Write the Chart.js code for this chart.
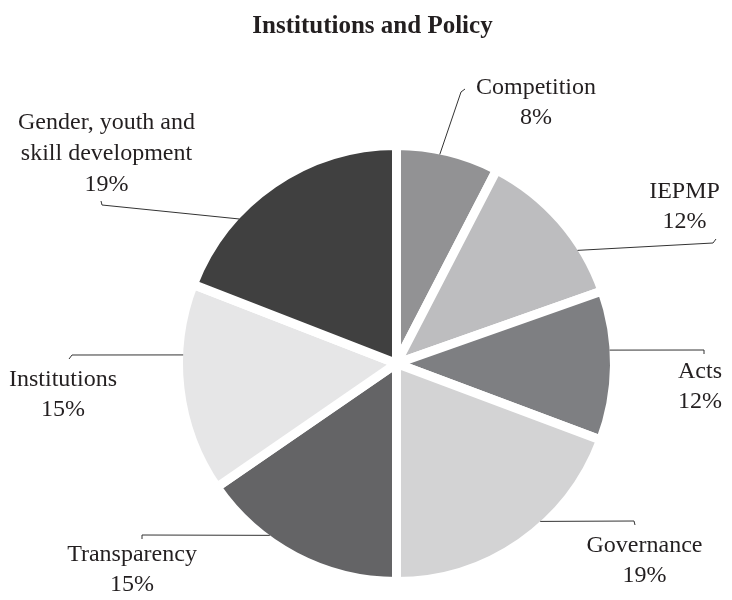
<!DOCTYPE html>
<html>
<head>
<meta charset="utf-8">
<script src="https://cdn.jsdelivr.net/npm/chart.js@4.4.1/dist/chart.umd.min.js"></script>
<style>
  html, body { margin: 0; padding: 0; background: #fff; }
  #wrap { width: 732px; height: 600px; position: relative; }
</style>
</head>
<body>
<div id="wrap"><canvas id="pie"></canvas></div>
<script>
// Chart data
const categories = [
  "Competition",
  "IEPMP",
  "Acts",
  "Governance",
  "Transparency",
  "Institutions",
  ["Gender, youth and", "skill development"],
];
const shares = [7.6, 12.0, 11.1, 19.3, 15.4, 15.5, 19.1];
const shareLabels = ["8%", "12%", "12%", "19%", "15%", "15%", "19%"];
const sliceColors = ["#929294", "#bdbdbf", "#7e7f82", "#d3d3d4", "#646466", "#e6e6e7", "#404040"];

// Leader line / label placement (offsets from pie centre, angle in degrees from top)
const labelLayout = [
  { at: 11.7, elbow: [64.5, -271.5], hook: [68.5, -274.5], text: [139.5, -275.5] },
  { at: 58, elbow: [316.5, -120.5], hook: [319.5, -124.5], text: [288, -171.5] },
  { at: 86.4, elbow: [307.5, -13.5], hook: [307.5, -9.5], text: [303.5, 8.5] },
  { at: 137.7, elbow: [237.5, 157.5], hook: [238.5, 161.5], text: [248, 182.5] },
  { at: 216.4, elbow: [-254.5, 171.5], hook: [-254.5, 175.5], text: [-264.5, 191.5] },
  { at: 272.3, elbow: [-324.5, -8.5], hook: [-327.5, -4.5], text: [-333.5, 16.5] },
  { at: 312.6, elbow: [-294.5, -158.5], hook: [-295.5, -162.5], text: [-290, -240.5] },
];

const BORDER = 9;
const FONT = "'Liberation Serif', 'Times New Roman', serif";
const TEXT_COLOR = "#231f20";

const calloutPlugin = {
  id: "callouts",
  afterDraw(chart) {
    const ctx = chart.ctx;
    const arcs = chart.getDatasetMeta(0).data;
    ctx.save();

    // title
    ctx.fillStyle = TEXT_COLOR;
    ctx.font = "bold 25px " + FONT;
    ctx.textAlign = "center";
    ctx.textBaseline = "middle";
    ctx.fillText("Institutions and Policy", 372.5, 27);

    ctx.font = "24px " + FONT;
    arcs.forEach((arc, i) => {
      const lay = labelLayout[i];
      const cx = arc.x, cy = arc.y;
      const r = arc.outerRadius - BORDER / 2;
      const a = (lay.at - 90) * Math.PI / 180;

      ctx.strokeStyle = "#333";
      ctx.lineWidth = 1;
      ctx.beginPath();
      ctx.moveTo(cx + Math.cos(a) * r, cy + Math.sin(a) * r);
      ctx.lineTo(cx + lay.elbow[0], cy + lay.elbow[1]);
      ctx.lineTo(cx + lay.hook[0], cy + lay.hook[1]);
      ctx.stroke();

      const name = categories[i];
      const lines = (Array.isArray(name) ? name : [name]).concat(shareLabels[i]);
      const lineH = Array.isArray(name) ? 31 : 30;
      lines.forEach((txt, k) => {
        ctx.fillText(txt, cx + lay.text[0], cy + lay.text[1] + k * lineH);
      });
    });
    ctx.restore();
  },
};

new Chart(document.getElementById("pie"), {
  type: "pie",
  data: {
    labels: categories,
    datasets: [
      {
        data: shares,
        backgroundColor: sliceColors,
        borderColor: "#ffffff",
        borderWidth: BORDER,
      },
    ],
  },
  options: {
    responsive: true,
    maintainAspectRatio: false,
    animation: false,
    events: [],
    layout: {
      padding: { top: 141, bottom: 14, left: 174, right: 113 },
    },
    plugins: {
      legend: { display: false },
      tooltip: { enabled: false },
      title: { display: false },
    },
  },
  plugins: [calloutPlugin],
});
</script>
</body>
</html>
